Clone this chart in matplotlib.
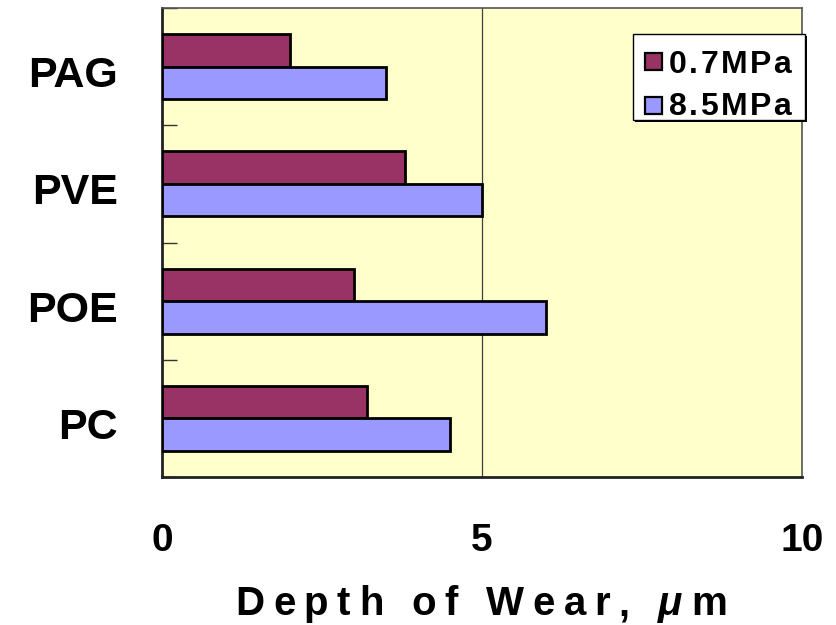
import matplotlib
matplotlib.use("Agg")
import matplotlib.pyplot as plt
from matplotlib.patches import Rectangle
from matplotlib.font_manager import FontProperties, findfont, get_font
from matplotlib.transforms import ScaledTranslation
import numpy as np

# Wear depth per lubricant at two contact pressures
lubricants = ["PAG", "PVE", "POE", "PC"]
series_names = ["0.7MPa", "8.5MPa"]
depth_low = [2.0, 3.8, 3.0, 3.2]     # 0.7 MPa
depth_high = [3.5, 5.0, 6.0, 4.5]    # 8.5 MPa
x_ticks = [0, 5, 10]
x_label = "Depth of Wear, μm"

colors = ["#993366", "#9999FF"]
W, H = 836, 625
FAMILY = "Liberation Sans"

fig = plt.figure(figsize=(W / 100, H / 100), dpi=100)
fig.patch.set_facecolor("white")
ax = fig.add_axes([162 / W, (H - 477) / H, (802 - 162) / W, (477 - 8) / H])
ax.set_facecolor("#FFFFCC")

y = np.arange(len(lubricants))
bh = 0.277
for i, (vals, c) in enumerate(zip([depth_low, depth_high], colors)):
    ax.barh(y + (i - 0.5) * bh, vals, height=bh, color=c,
            edgecolor="black", linewidth=2.0, zorder=3)

ax.set_xlim(0, 10)
ax.set_ylim(len(lubricants) - 0.5, -0.5)
ax.axvline(5, color="#404040", linewidth=0.9, zorder=1)

ax.set_xticks(x_ticks)
ax.set_xticklabels([str(v) for v in x_ticks])
ax.set_yticks(y)
ax.set_yticklabels(lubricants)
ax.set_yticks(np.arange(-0.5, len(lubricants), 1.0), minor=True)
ax.tick_params(axis="y", which="major", length=0, pad=32)
ax.tick_params(axis="y", which="minor", direction="in", length=11,
               width=1.0, color="#333333")
ax.tick_params(axis="x", which="both", length=0, pad=33)
shift_down = ScaledTranslation(0, -5 / 100, fig.dpi_scale_trans)
for lab in ax.get_yticklabels():
    lab.set_fontproperties(FontProperties(family=FAMILY, weight="bold", size=31))
    lab.set_transform(lab.get_transform() + shift_down)
for lab in ax.get_xticklabels():
    lab.set_fontproperties(FontProperties(family=FAMILY, weight="bold", size=28))

for side in ["left", "bottom"]:
    ax.spines[side].set_linewidth(2.0)
    ax.spines[side].set_color("#222222")
for side in ["top", "right"]:
    ax.spines[side].set_linewidth(1.2)
    ax.spines[side].set_color("#555555")


def tracked_text(x_px, y_px, s, size, tracking, align="left", italic=""):
    """Draw text letter by letter with extra spacing (pixel coordinates, y from top)."""
    props = []
    advs = []
    for ch in s:
        prop = FontProperties(family=FAMILY, weight="bold", size=size,
                              style="italic" if ch in italic else "normal")
        font = get_font(findfont(prop))
        font.set_size(size, 100)
        g = font.load_char(ord(ch))
        advs.append(g.linearHoriAdvance / 65536.0)
        props.append(prop)
    total = sum(advs) + tracking * (len(s) - 1)
    x = x_px - total / 2 if align == "center" else x_px
    for ch, a, prop in zip(s, advs, props):
        if ch != " ":
            fig.text(x / W, 1 - y_px / H, ch, fontproperties=prop,
                     ha="left", va="baseline", color="black", zorder=10)
        x += a + tracking


# axis title
tracked_text(481, 615, x_label, 29, 8.5, align="center", italic="μ")

# legend box with shadow
fig.patches.append(Rectangle((635 / W, 1 - 122 / H), 172 / W, 86 / H,
                             transform=fig.transFigure, facecolor="black",
                             edgecolor="none", zorder=5))
fig.patches.append(Rectangle((633 / W, 1 - 120 / H), 172 / W, 86 / H,
                             transform=fig.transFigure, facecolor="white",
                             edgecolor="black", linewidth=1.0, zorder=6))
for k, (name, c) in enumerate(zip(series_names, colors)):
    top = 53 + 44 * k
    fig.patches.append(Rectangle((645 / W, 1 - (top + 17) / H), 17 / W, 17 / H,
                                 transform=fig.transFigure, facecolor=c,
                                 edgecolor="black", linewidth=1.6, zorder=7))
    tracked_text(669, 73 + 42 * k, name, 23, 2.4)

fig.savefig("out.png", dpi=100)
